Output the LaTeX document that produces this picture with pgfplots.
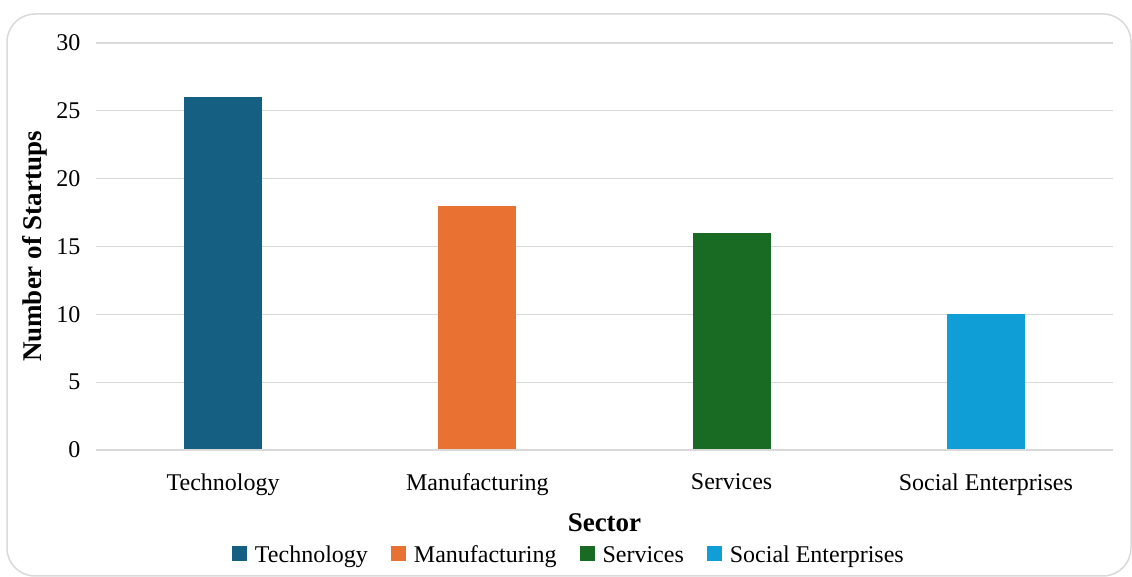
\documentclass[border=0pt]{standalone}
\usepackage{pgfplots}
\pgfplotsset{compat=1.18}
\usepackage{fontspec}
\setmainfont{Liberation Serif}
\definecolor{cTech}{HTML}{156082}
\definecolor{cManu}{HTML}{E97132}
\definecolor{cServ}{HTML}{196B24}
\definecolor{cSoc}{HTML}{0F9ED5}
\definecolor{gridc}{HTML}{D9D9D9}
\begin{document}
\begin{tikzpicture}[x=1pt,y=1pt]
\path[use as bounding box] (0,0) rectangle (1132,577);
\draw[gridc,line width=1.5pt,rounded corners=28pt] (7,1) rectangle (1131,563);
\begin{axis}[
  at={(96pt,127pt)}, anchor=south west,
  scale only axis, width=1017pt, height=407pt,
  ymin=0, ymax=30, ytick={0,5,...,30},
  xmin=-0.5, xmax=3.5, xtick={0,1,2,3},
  xticklabels={Technology,Manufacturing,Services,Social Enterprises},
  ybar, bar width=78pt, bar shift=0pt,
  axis line style={draw=none},
  ymajorgrids, grid style={gridc,line width=1.2pt},
  major tick length=0pt,
  tick label style={font=\fontsize{24}{28}\selectfont, black},
  /pgf/number format/assume math mode=true,
  yticklabel style={xshift=-12pt},
  xticklabel style={yshift=-20pt},
  ylabel={\textbf{Number of Startups}},
  ylabel style={font=\fontsize{27}{31}\selectfont, at={(axis description cs:-0.06,0.5)}, anchor=center},
  xlabel={\textbf{Sector}},
  xlabel style={font=\fontsize{27}{31}\selectfont, yshift=-11pt},
  legend columns=4,
  legend style={draw=none, fill=none, at={(0.465,-0.225)}, anchor=north,
    font=\fontsize{24}{28}\selectfont,
    /tikz/every even column/.append style={column sep=21pt},
    /tikz/every odd column/.append style={column sep=6pt}},
  legend image code/.code={\fill[#1] (0pt,-6pt) rectangle (15pt,9pt);},
  clip=false,
]
\addplot[fill=cTech, draw=none] coordinates {(0,26)};
\addplot[fill=cManu, draw=none] coordinates {(1,18)};
\addplot[fill=cServ, draw=none] coordinates {(2,16)};
\addplot[fill=cSoc, draw=none] coordinates {(3,10)};
\draw[gridc,line width=1.5pt] (axis cs:-0.5,0) -- (axis cs:3.5,0);
\legend{Technology,Manufacturing,Services,Social Enterprises}
\end{axis}
\end{tikzpicture}
\end{document}
